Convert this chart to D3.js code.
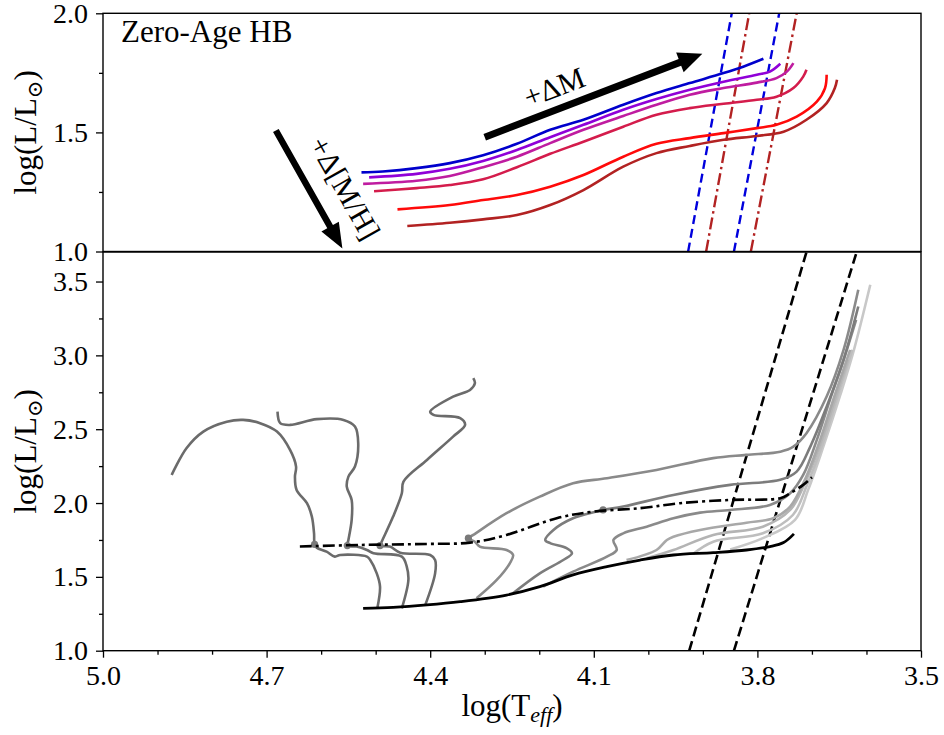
<!DOCTYPE html>
<html>
<head>
<meta charset="utf-8">
<script src="https://cdn.jsdelivr.net/npm/d3@7"></script>
<style>
body { margin: 0; background: #fff; }
svg text { font-family: "Liberation Serif", "DejaVu Serif", serif; fill: #000; }
</style>
</head>
<body>
<div id="vis"></div>
<script>
// ---- top panel: zero-age HB, one line per [M/H] (logTeff, logL) ----
var zahbMH1 = [[4.526,1.332],[4.487,1.336],[4.425,1.350],[4.364,1.371],[4.303,1.404],[4.241,1.452],[4.180,1.511],[4.119,1.553],[4.046,1.616],[3.985,1.665],[3.924,1.707],[3.862,1.749],[3.826,1.776],[3.789,1.809]];
var zahbMH2 = [[4.512,1.311],[4.425,1.326],[4.364,1.347],[4.303,1.380],[4.241,1.426],[4.180,1.480],[4.119,1.532],[4.046,1.595],[3.985,1.640],[3.924,1.679],[3.862,1.713],[3.801,1.742],[3.777,1.755],[3.758,1.788]];
var zahbMH3 = [[4.523,1.284],[4.425,1.297],[4.364,1.317],[4.303,1.354],[4.241,1.398],[4.180,1.455],[4.119,1.511],[4.046,1.569],[3.985,1.616],[3.924,1.658],[3.862,1.686],[3.801,1.709],[3.765,1.728],[3.746,1.755],[3.734,1.791]];
var zahbMH4 = [[4.503,1.253],[4.425,1.266],[4.364,1.279],[4.303,1.303],[4.241,1.354],[4.180,1.410],[4.119,1.461],[4.046,1.524],[3.985,1.574],[3.924,1.602],[3.862,1.620],[3.801,1.637],[3.765,1.650],[3.734,1.686],[3.716,1.734],[3.710,1.763]];
var zahbMH5 = [[4.460,1.177],[4.364,1.195],[4.303,1.216],[4.241,1.237],[4.180,1.272],[4.119,1.321],[4.046,1.398],[3.985,1.452],[3.924,1.476],[3.862,1.497],[3.801,1.518],[3.765,1.532],[3.728,1.566],[3.691,1.629],[3.676,1.686],[3.673,1.742]];
var zahbMH6 = [[4.442,1.107],[4.364,1.121],[4.303,1.135],[4.241,1.153],[4.180,1.195],[4.119,1.258],[4.046,1.356],[3.985,1.413],[3.924,1.443],[3.862,1.469],[3.801,1.485],[3.752,1.503],[3.710,1.553],[3.673,1.623],[3.658,1.686],[3.654,1.721]];

// instability strip edges for the extreme metallicities
var stripMH1 = [[[3.927,1.0],[3.847,2.0]], [[3.843,1.0],[3.760,2.0]]];
var stripMH6 = [[[3.894,1.0],[3.815,2.0]], [[3.812,1.0],[3.728,2.0]]];

var arrowMass = [[4.300,1.480],[3.901,1.830]];
var arrowMetal = [[4.683,1.508],[4.561,1.013]];

// ---- bottom panel: HB evolution tracks ----
var zahbLine = [[4.523,1.287],[4.468,1.294],[4.406,1.310],[4.345,1.332],[4.260,1.377],[4.199,1.434],[4.138,1.513],[4.076,1.569],[4.015,1.614],[3.954,1.648],[3.881,1.664],[3.820,1.682],[3.777,1.705],[3.752,1.732],[3.733,1.791]];
var tahbLine = [[4.639,1.706],[4.529,1.716],[4.406,1.723],[4.327,1.732],[4.260,1.784],[4.168,1.897],[4.101,1.942],[4.015,1.965],[3.942,1.999],[3.850,2.021],[3.758,2.033],[3.740,2.066],[3.716,2.123],[3.700,2.175]];

var trackA = [[4.497,1.287],[4.492,1.434],[4.498,1.524],[4.510,1.614],[4.516,1.637],[4.565,1.648],[4.575,1.637],[4.590,1.671],[4.608,1.698],[4.612,1.720],[4.613,1.795],[4.617,1.908],[4.626,1.999],[4.645,2.089],[4.648,2.179],[4.646,2.247],[4.657,2.360],[4.681,2.484],[4.712,2.541],[4.743,2.563],[4.773,2.551],[4.816,2.484],[4.847,2.371],[4.874,2.190]];
var trackB = [[4.452,1.287],[4.440,1.479],[4.443,1.569],[4.452,1.637],[4.504,1.660],[4.516,1.682],[4.535,1.705],[4.552,1.712],[4.550,1.750],[4.544,1.886],[4.544,2.021],[4.553,2.111],[4.550,2.179],[4.538,2.247],[4.532,2.405],[4.538,2.518],[4.559,2.563],[4.608,2.568],[4.657,2.529],[4.675,2.541],[4.680,2.619]];
var trackC = [[4.409,1.310],[4.391,1.524],[4.391,1.614],[4.400,1.648],[4.455,1.664],[4.474,1.705],[4.492,1.712],[4.489,1.738],[4.468,1.908],[4.452,2.066],[4.449,2.145],[4.406,2.292],[4.358,2.450],[4.336,2.529],[4.345,2.575],[4.394,2.597],[4.400,2.619],[4.358,2.721],[4.327,2.766],[4.318,2.812],[4.321,2.846]];
var trackD = [[4.315,1.355],[4.278,1.479],[4.254,1.592],[4.248,1.648],[4.260,1.682],[4.309,1.705],[4.318,1.738],[4.330,1.762],[4.321,1.784],[4.260,1.931],[4.199,2.043],[4.138,2.134],[4.076,2.168],[3.985,2.224],[3.881,2.304],[3.820,2.326],[3.758,2.348],[3.734,2.382],[3.710,2.473],[3.673,2.721],[3.642,3.037],[3.615,3.444]];
var trackE = [[4.250,1.384],[4.199,1.524],[4.156,1.614],[4.140,1.660],[4.150,1.694],[4.180,1.728],[4.189,1.750],[4.174,1.818],[4.138,1.897],[4.095,1.942],[4.083,1.953],[4.046,1.976],[3.954,2.055],[3.850,2.123],[3.758,2.157],[3.728,2.213],[3.703,2.382],[3.673,2.653],[3.642,2.970],[3.615,3.331]];
var trackF = [[4.193,1.434],[4.138,1.535],[4.076,1.637],[4.058,1.682],[4.064,1.750],[4.046,1.795],[4.003,1.840],[3.954,1.897],[3.905,1.935],[3.850,1.953],[3.777,1.987],[3.740,2.066],[3.716,2.190],[3.691,2.428],[3.667,2.699],[3.639,3.003],[3.619,3.240]];
var trackG = [[4.040,1.614],[3.985,1.682],[3.966,1.750],[3.954,1.772],[3.905,1.818],[3.820,1.867],[3.771,1.897],[3.740,1.976],[3.713,2.157],[3.685,2.428],[3.658,2.732],[3.630,3.037]];
var trackH = [[4.003,1.626],[3.954,1.682],[3.881,1.784],[3.790,1.840],[3.740,1.953],[3.713,2.136],[3.685,2.394],[3.658,2.699],[3.634,2.970]];
var trackI = [[3.918,1.655],[3.881,1.738],[3.790,1.795],[3.735,1.919],[3.709,2.123],[3.681,2.394],[3.652,2.732],[3.626,3.037]];
var trackJ = [[3.850,1.685],[3.790,1.762],[3.731,1.886],[3.707,2.089],[3.678,2.394],[3.648,2.732],[3.623,3.037],[3.593,3.478]];

// points where the tracks cross the end of core He burning
var markTeff = [4.612, 4.552, 4.492, 4.330, 4.083];
var markLum = [1.720, 1.712, 1.712, 1.762, 1.953];

var stripBottom = [[[3.925,1.0],[3.710,3.7]], [[3.843,1.0],[3.618,3.7]]];

var xTicks = [5.0, 4.7, 4.4, 4.1, 3.8, 3.5];
var xMinor = [4.9, 4.8, 4.6, 4.5, 4.3, 4.2, 4.0, 3.9, 3.7, 3.6];
var yTopTicks = [1.0, 1.5, 2.0];
var yTopMinor = [1.25, 1.75];
var yBotTicks = [1.0, 1.5, 2.0, 2.5, 3.0, 3.5];
var yBotMinor = [1.25, 1.75, 2.25, 2.75, 3.25];

// styles
var zahbColors = ["#0000cc", "#9000d8", "#bf1ca0", "#d41c4c", "#ff0a0a", "#b22222"];
var trackColors = ["#6b6b6b", "#6b6b6b", "#6b6b6b", "#8a8a8a", "#7c7c7c", "#8a8a8a", "#a8a8a8", "#b4b4b4", "#bebebe", "#c8c8c8"];

var width = 944, height = 735;
var svg = d3.select("#vis").append("svg")
    .attr("width", width)
    .attr("height", height);

var x = d3.scaleLinear().domain([5.0, 3.5]).range([103, 921]);
var yTop = d3.scaleLinear().domain([1.0, 2.0]).range([251.5, 13.3]);
var yBot = d3.scaleLinear().domain([1.0, 3.7]).range([650.7, 252]);

var defs = svg.append("defs");
defs.append("clipPath").attr("id", "clipTop").append("rect")
    .attr("x", x(5.0)).attr("y", yTop(2.0))
    .attr("width", x(3.5) - x(5.0)).attr("height", yTop(1.0) - yTop(2.0));
defs.append("clipPath").attr("id", "clipBot").append("rect")
    .attr("x", x(5.0)).attr("y", yBot(3.7))
    .attr("width", x(3.5) - x(5.0)).attr("height", yBot(1.0) - yBot(3.7));

var gTop = svg.append("g").attr("clip-path", "url(#clipTop)");
var gBot = svg.append("g").attr("clip-path", "url(#clipBot)");

function lineFor(y) {
    return d3.line()
        .x(function (d) { return x(d[0]); })
        .y(function (d) { return y(d[1]); })
        .curve(d3.curveCatmullRom.alpha(0.5));
}
var lineTop = lineFor(yTop);
var lineBot = lineFor(yBot);

// top panel
stripMH1.forEach(function (s) {
    gTop.append("path").attr("d", lineTop(s))
        .attr("fill", "none").attr("stroke", "#0000dd")
        .attr("stroke-width", 2.4).attr("stroke-dasharray", "9,5");
});
stripMH6.forEach(function (s) {
    gTop.append("path").attr("d", lineTop(s))
        .attr("fill", "none").attr("stroke", "#b22222")
        .attr("stroke-width", 2.4).attr("stroke-dasharray", "12,4,2.5,4");
});

var zahbs = [zahbMH1, zahbMH2, zahbMH3, zahbMH4, zahbMH5, zahbMH6];
gTop.selectAll(".zahb")
    .data(zahbs)
    .enter().append("path")
    .attr("class", "zahb")
    .attr("d", lineTop)
    .attr("fill", "none")
    .attr("stroke", function (d, i) { return zahbColors[i]; })
    .attr("stroke-width", 2.6);

function arrowPath(p0, p1, w, hw, hl) {
    var dx = p1[0] - p0[0], dy = p1[1] - p0[1], len = Math.hypot(dx, dy);
    var ux = dx / len, uy = dy / len, nx = -uy, ny = ux;
    var bx = p1[0] - ux * hl, by = p1[1] - uy * hl;
    var pts = [
        [p0[0] + nx * w / 2, p0[1] + ny * w / 2],
        [bx + nx * w / 2, by + ny * w / 2],
        [bx + nx * hw / 2, by + ny * hw / 2],
        p1,
        [bx - nx * hw / 2, by - ny * hw / 2],
        [bx - nx * w / 2, by - ny * w / 2],
        [p0[0] - nx * w / 2, p0[1] - ny * w / 2]
    ];
    return "M" + pts.join("L") + "Z";
}

var mA = arrowMass.map(function (d) { return [x(d[0]), yTop(d[1])]; });
var hA = arrowMetal.map(function (d) { return [x(d[0]), yTop(d[1])]; });
svg.append("path").attr("d", arrowPath(mA[0], mA[1], 7, 21, 24)).attr("fill", "#000");
svg.append("path").attr("d", arrowPath(hA[0], hA[1], 6.5, 20, 25)).attr("fill", "#000");

var angM = Math.atan2(mA[1][1] - mA[0][1], mA[1][0] - mA[0][0]) * 180 / Math.PI;
var angH = Math.atan2(hA[1][1] - hA[0][1], hA[1][0] - hA[0][0]) * 180 / Math.PI;
svg.append("text")
    .attr("transform", "translate(" + x(4.173) + "," + yTop(1.691) + ") rotate(" + angM + ")")
    .attr("text-anchor", "middle").attr("dy", "0.35em")
    .style("font-size", "30px")
    .text("+ΔM");
svg.append("text")
    .attr("transform", "translate(" + x(4.556) + "," + yTop(1.267) + ") rotate(" + angH + ")")
    .attr("text-anchor", "middle").attr("dy", "0.35em")
    .style("font-size", "30px")
    .text("+Δ[M/H]");

svg.append("text")
    .attr("x", x(5.0) + 18).attr("y", yTop(2.0) + 29)
    .style("font-size", "31px")
    .text("Zero-Age HB");

// bottom panel
stripBottom.forEach(function (s) {
    gBot.append("path").attr("d", lineBot(s))
        .attr("fill", "none").attr("stroke", "#000")
        .attr("stroke-width", 2.6).attr("stroke-dasharray", "10,5");
});

var tracks = [trackA, trackB, trackC, trackD, trackE, trackF, trackG, trackH, trackI, trackJ];
var order = d3.range(tracks.length).reverse();
gBot.selectAll(".track")
    .data(order)
    .enter().append("path")
    .attr("class", "track")
    .attr("d", function (i) { return lineBot(tracks[i]); })
    .attr("fill", "none")
    .attr("stroke", function (i) { return trackColors[i]; })
    .attr("stroke-width", 2.6);

gBot.selectAll(".mark")
    .data(markTeff)
    .enter().append("circle")
    .attr("class", "mark")
    .attr("cx", function (d) { return x(d); })
    .attr("cy", function (d, i) { return yBot(markLum[i]); })
    .attr("r", 3.6)
    .attr("fill", "#7a7a7a");

gBot.append("path").attr("d", lineBot(tahbLine))
    .attr("fill", "none").attr("stroke", "#000")
    .attr("stroke-width", 2.6).attr("stroke-dasharray", "12,4,3,4");
gBot.append("path").attr("d", lineBot(zahbLine))
    .attr("fill", "none").attr("stroke", "#000")
    .attr("stroke-width", 2.8);

// frames
svg.append("rect")
    .attr("x", x(5.0)).attr("y", yTop(2.0))
    .attr("width", x(3.5) - x(5.0)).attr("height", yTop(1.0) - yTop(2.0))
    .attr("fill", "none").attr("stroke", "#000").attr("stroke-width", 1.4);
svg.append("rect")
    .attr("x", x(5.0)).attr("y", yBot(3.7))
    .attr("width", x(3.5) - x(5.0)).attr("height", yBot(1.0) - yBot(3.7))
    .attr("fill", "none").attr("stroke", "#000").attr("stroke-width", 1.4);

// axes
var fmt = d3.format(".1f");
function styleAxis(g) {
    g.select(".domain").remove();
    g.selectAll(".tick line").attr("stroke", "#000").attr("stroke-width", 1.3);
    g.selectAll(".tick text")
        .style("font-family", "'Liberation Serif', 'DejaVu Serif', serif")
        .style("font-size", "28px").attr("fill", "#000");
}

svg.append("g").attr("transform", "translate(" + x(5.0) + ",0)")
    .call(d3.axisLeft(yTop).tickValues(yTopTicks).tickFormat(fmt).tickSize(7).tickPadding(8))
    .call(styleAxis);
svg.append("g").attr("transform", "translate(" + x(5.0) + ",0)")
    .call(d3.axisLeft(yTop).tickValues(yTopMinor).tickFormat("").tickSize(4))
    .call(styleAxis);
svg.append("g").attr("transform", "translate(" + x(5.0) + ",0)")
    .call(d3.axisLeft(yBot).tickValues(yBotTicks).tickFormat(fmt).tickSize(7).tickPadding(8))
    .call(styleAxis);
svg.append("g").attr("transform", "translate(" + x(5.0) + ",0)")
    .call(d3.axisLeft(yBot).tickValues(yBotMinor).tickFormat("").tickSize(4))
    .call(styleAxis);
svg.append("g").attr("transform", "translate(0," + yBot(1.0) + ")")
    .call(d3.axisBottom(x).tickValues(xTicks).tickFormat(fmt).tickSize(7).tickPadding(7))
    .call(styleAxis);
svg.append("g").attr("transform", "translate(0," + yBot(1.0) + ")")
    .call(d3.axisBottom(x).tickValues(xMinor).tickFormat("").tickSize(4))
    .call(styleAxis);

// axis labels
function yLabel(cy) {
    var t = svg.append("text")
        .attr("transform", "translate(36," + cy + ") rotate(-90)")
        .attr("text-anchor", "middle")
        .style("font-size", "31px");
    t.append("tspan").text("log(L/L");
    t.append("tspan").attr("dy", "0.3em").style("font-size", "21px").text("⊙");
    t.append("tspan").attr("dy", "-0.2em").text(")");
}
yLabel((yTop(1.0) + yTop(2.0)) / 2);
yLabel((yBot(1.0) + yBot(3.7)) / 2);

var xl = svg.append("text")
    .attr("x", (x(5.0) + x(3.5)) / 2).attr("y", 716)
    .attr("text-anchor", "middle")
    .style("font-size", "31px");
xl.append("tspan").text("log(T");
xl.append("tspan").attr("dy", "0.25em").style("font-size", "22px").style("font-style", "italic").text("eff");
xl.append("tspan").attr("dy", "-0.18em").text(")");
</script>
</body>
</html>
